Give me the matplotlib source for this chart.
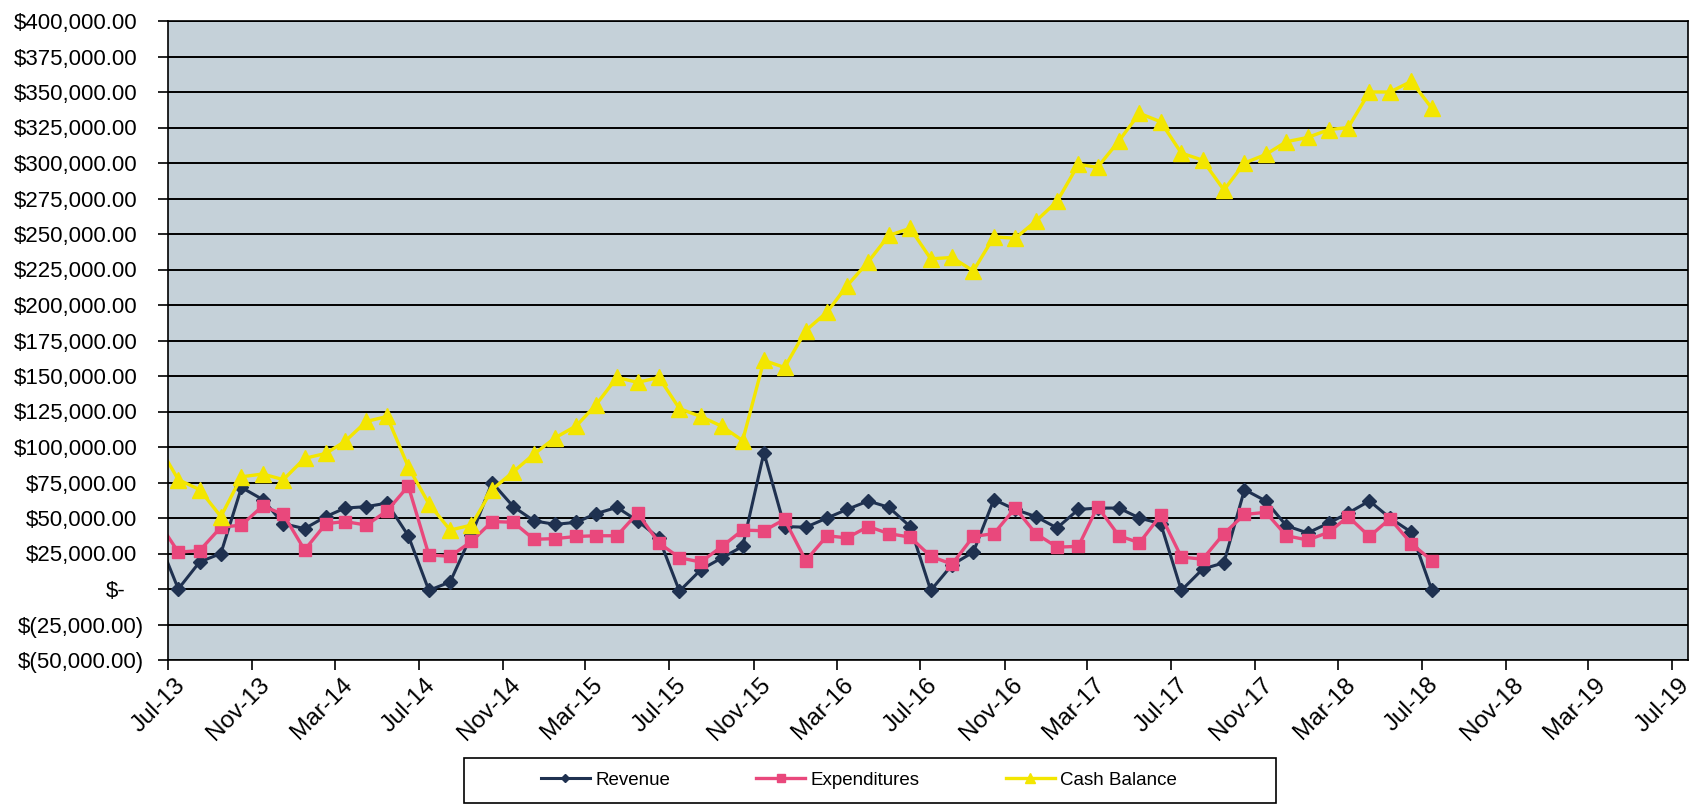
import pandas as pd
import matplotlib
matplotlib.use("Agg")
import matplotlib.pyplot as plt
import matplotlib.dates as mdates
from matplotlib.ticker import FuncFormatter
from matplotlib.transforms import ScaledTranslation
from matplotlib.patches import Rectangle

plt.rcParams['font.family'] = ['Liberation Sans', 'DejaVu Sans']

# monthly figures, Jun-13 .. Jul-18
months = pd.date_range("2013-06-01", "2018-07-01", freq="MS")

revenue = [36000, 0, 19000, 25000, 71500, 63000, 46000, 42500, 51000, 57000,
           58000, 60500, 37500, -1000, 5000, 38000, 75000, 58000, 48000, 45500,
           47000, 53000, 57500, 48000, 36000, -1500, 13500, 22000, 30000, 96000,
           44000, 43500, 50000, 56000, 62000, 57500, 44000, -1000, 17000, 26000,
           63000, 56000, 51000, 43000, 56000, 57000, 57000, 50000, 46000, -1000,
           14000, 18500, 70000, 62000, 44500, 39500, 46500, 53500, 62000, 50000,
           40000, -1000]

expenditures = [48000, 26000, 27000, 43500, 45000, 58500, 52500, 27500, 46000, 47500,
                45000, 55000, 72500, 24000, 23000, 33500, 47500, 47000, 35000, 35500,
                37000, 37500, 37500, 53500, 32500, 22000, 19000, 30000, 41500, 41000,
                49000, 20000, 37500, 36000, 44000, 39000, 36500, 23000, 17500, 37000,
                39000, 57000, 39000, 29500, 30000, 58000, 37500, 32500, 52000, 22500,
                21000, 39000, 52500, 54000, 37500, 34500, 40000, 51000, 37000, 49500,
                32000, 20000]

cash_balance = [102000, 77000, 70000, 51000, 79000, 81000, 77000, 92000, 95500, 104000,
                118000, 121500, 86000, 60000, 41500, 45000, 70000, 82500, 95000, 106500,
                115000, 129500, 149000, 145500, 149000, 127000, 121500, 114500, 104500, 161000,
                156000, 182000, 195000, 213500, 230500, 249000, 254000, 232500, 233500, 224000,
                248000, 247000, 259000, 273000, 299000, 297000, 315500, 335000, 329000, 307000,
                302000, 281000, 300000, 306000, 315000, 318000, 323500, 325000, 350000, 350000,
                357500, 338500]

# points sit in the middle of each month slot
dates = months + pd.Timedelta(days=15)

fig = plt.figure(figsize=(16.91, 8.06), dpi=100)
ax = fig.add_axes([168 / 1691, 1 - 660 / 806, (1688 - 168) / 1691, (660 - 21) / 806])
ax.set_facecolor('#c5d1d9')

ax.plot(dates, revenue, color='#1f3150', lw=2.2, marker='D', ms=7.5,
        mfc='#1f3150', mec='#1f3150', label='Revenue')
ax.plot(dates, expenditures, color='#e9487c', lw=2.4, marker='s', ms=8.5,
        mfc='#e9487c', mec='#e9487c', label='Expenditures')
ax.plot(dates, cash_balance, color='#f3e600', lw=2.4, marker='^', ms=11,
        mfc='#f3e600', mec='#f3e600', label='Cash Balance')

ax.set_xlim(pd.Timestamp("2013-07-01"), pd.Timestamp("2019-07-24"))
ax.set_ylim(-50000, 400000)

ax.set_yticks(range(-50000, 400001, 25000))


def dollars(v, pos):
    if v == 0:
        return "$-"
    if v < 0:
        return "$({:,.2f})".format(-v)
    return "${:,.2f}".format(v)


ax.yaxis.set_major_formatter(FuncFormatter(dollars))
ax.yaxis.grid(True, color='black', lw=1.4)
ax.set_axisbelow(True)

xticks = pd.date_range("2013-07-01", "2019-07-01", freq="4MS")
ax.set_xticks(xticks)
ax.xaxis.set_major_formatter(mdates.DateFormatter('%b-%y'))

ax.tick_params(axis='y', direction='out', length=7, width=1.2, pad=10, labelsize=16)
ax.tick_params(axis='x', direction='out', length=7, width=1.2, pad=3, labelsize=17.5)
for lbl in ax.get_xticklabels():
    lbl.set_rotation(45)
    lbl.set_ha('right')
    lbl.set_va('top')
    lbl.set_rotation_mode('anchor')
    lbl.set_transform(lbl.get_transform() + ScaledTranslation(6 / 100, 0, fig.dpi_scale_trans))

# accounting-style alignment of the dollar labels
for v, lbl in zip(ax.get_yticks(), ax.get_yticklabels()):
    if v > 0:
        dx = -7
    elif v == 0:
        dx = -19
    else:
        dx = 0
    lbl.set_transform(lbl.get_transform() + ScaledTranslation(dx / 100, 0, fig.dpi_scale_trans))

for s in ax.spines.values():
    s.set_color('black')
    s.set_linewidth(1.2)

handles, labels = ax.get_legend_handles_labels()
fig.legend(handles, labels, loc='center', bbox_to_anchor=(0.508, 0.032), ncol=3,
           frameon=False, fontsize=13.5, handlelength=2.6, handletextpad=0.3,
           columnspacing=4.6, markerscale=0.6)
fig.add_artist(Rectangle((464 / 1691, 1 - 803 / 806), (1276 - 464) / 1691, (803 - 758) / 806,
                         transform=fig.transFigure, fill=False, ec='black', lw=1.2))

fig.savefig('out.png', dpi=100)
